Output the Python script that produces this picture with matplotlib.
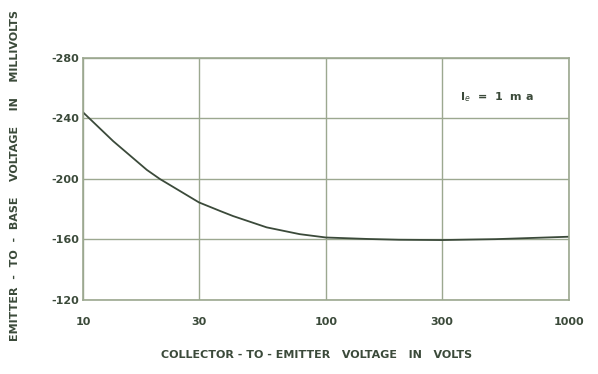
import matplotlib
matplotlib.use("Agg")
import matplotlib.pyplot as plt

# collector-to-emitter voltage (V) and emitter-to-base voltage (mV), Ie = 1 mA
vce = [10, 13.3, 18.3, 20.7, 30, 36.7, 41.4, 57, 78, 100, 150, 200, 300, 500, 1000]
veb = [-244, -225, -206, -200, -184.5, -178.8, -175.5, -168, -163.5, -161.3,
       -160.3, -159.8, -159.6, -160.2, -161.8]

x_ticks = [10, 30, 100, 300, 1000]
x_tick_labels = ["10", "30", "100", "300", "1000"]
y_ticks = [-280, -240, -200, -160, -120]
y_tick_labels = ["-280", "-240", "-200", "-160", "-120"]

GRID = "#9ca890"
INK = "#3b4a3a"

fig = plt.figure(figsize=(5.98, 3.74), dpi=100)
ax = fig.add_axes([0.139, 0.198, 0.812, 0.647])

ax.plot(vce, veb, color=INK, linewidth=1.3)

ax.set_xscale("log")
ax.set_xlim(10, 1000)
ax.set_ylim(-120, -280)
ax.set_xticks(x_ticks)
ax.set_xticklabels(x_tick_labels)
ax.set_xticks([], minor=True)
ax.set_yticks(y_ticks)
ax.set_yticklabels(y_tick_labels)

ax.grid(True, color=GRID, linewidth=1.0)
for s in ax.spines.values():
    s.set_color(GRID)
    s.set_linewidth(1.2)
ax.tick_params(length=0, colors=INK, labelsize=8)
ax.tick_params(axis="x", pad=12)
ax.tick_params(axis="y", pad=3)
for lab in ax.get_xticklabels() + ax.get_yticklabels():
    lab.set_fontweight("bold")

ax.text(356, -254, r"I$_{e}$  =  1  m a", color=INK, fontsize=8,
        fontweight="bold", ha="left", va="center")

fig.text(0.53, 0.05, "COLLECTOR - TO - EMITTER   VOLTAGE   IN   VOLTS",
         color=INK, fontsize=8, fontweight="bold", ha="center", va="center")
fig.text(0.025, 0.53, "EMITTER  -  TO  -  BASE    VOLTAGE    IN    MILLIVOLTS",
         color=INK, fontsize=8, fontweight="bold", ha="center", va="center",
         rotation=90)

fig.savefig("out.png", dpi=100, facecolor="white")
